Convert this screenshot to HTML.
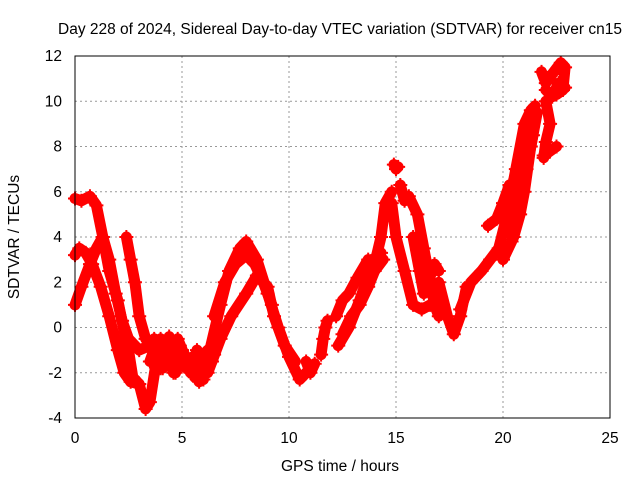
<!DOCTYPE html>
<html><head><meta charset="utf-8"><style>
html,body{margin:0;padding:0;background:#fff}
svg text{font-family:"Liberation Sans",sans-serif;font-size:15.5px;fill:#000}
</style></head><body>
<svg id="chart" width="640" height="480">
<text x="340" y="34" text-anchor="middle">Day 228 of 2024, Sidereal Day-to-day VTEC variation (SDTVAR) for receiver cn15</text>
<g id="grid"></g>
<g id="ticks"></g>
<g id="marks"></g>
<rect x="75" y="56" width="535" height="362" fill="none" stroke="#000" stroke-width="1"/>
<text x="340" y="471" text-anchor="middle">GPS time / hours</text>
<text transform="translate(19,237) rotate(-90)" text-anchor="middle">SDTVAR / TECUs</text>
</svg>
<script>
const xTicks=[0,5,10,15,20,25];
const yTicks=[-4,-2,0,2,4,6,8,10,12];
const trackTimes=[
[0,0.3,0.7,1.0,1.3,1.6,2.0,2.3,2.5,2.7,3.0,3.3,3.5,3.8,4.0],
[0,0.2,0.5,0.8,1.2,1.6,2.0,2.3,2.6,3.0],
[0,0.3,0.7,1.0,1.3,1.6,1.9,2.2,2.5,3.0,3.5],
[2.4,2.6,2.8,3.0,3.3,3.7,4.0,4.3],
[3.5,3.8,4.1,4.4,4.7,5.0,5.3,5.6,5.9,6.2,6.5],
[3.7,4.0,4.3,4.6,4.9,5.2,5.5,5.8,6.1,6.4],
[3.6,3.9,4.2,4.5,4.8,5.1,5.4,5.7,6.0],
[5.8,6.3,6.8,7.2,7.7,8.0,8.5,9.0,9.5,10.0,10.5,10.8],
[6.2,6.8,7.3,8.0,8.5,9.0,9.3,9.8,10.3],
[6.5,7.0,7.5,8.0,8.4,8.8,9.2],
[10.8,11.0,11.2],
[11.5,11.6,11.7,11.8],
[12.3,12.8,13.3,13.8,14.1,14.3,14.5,14.8],
[12.2,12.5,12.8,13.2,13.7,14.0,14.3],
[12.5,12.9,13.3,13.7,14.0,14.4],
[14.9,15.0,15.1],
[15.2,15.4,15.6,16.0,16.3,16.6,16.8,17.0],
[14.8,15.0,15.4,15.8,16.2,16.6,17.1],
[15.8,16.1,16.3,16.5,16.8,17.0],
[17.0,17.4,17.7,18.0,18.3],
[18.0,18.5,19.0,19.4,19.8,20.2,20.6,21.0,21.3,21.5],
[19.3,19.7,20.0,20.3],
[20.5,20.8,21.0,21.3,21.6],
[20.0,20.4,20.8,21.1,21.4],
[21.8,22.0,22.3,22.7,22.9,22.8,22.5],
[22.0,22.3,22.6,22.9],
[22.0,22.2,22.0,21.9],
[21.9,22.2,22.5]
];
const trackValues=[
[5.7,5.6,5.8,5.4,4.0,2.5,1.2,-0.2,-1.0,-2.2,-2.5,-3.6,-3.3,-1.5,-0.5],
[3.2,3.5,3.3,2.8,1.8,0.5,-1.0,-2.0,-2.4,-2.5],
[1.0,1.8,2.8,3.5,4.0,3.0,1.5,0.3,-0.5,-1.0,-0.8],
[4.0,3.0,2.0,0.5,-0.5,-0.8,-0.6,-1.0],
[-1.5,-0.7,-1.8,-0.4,-2.0,-1.0,-1.5,-2.2,-1.3,-1.0,-1.2],
[-0.5,-1.8,-1.0,-2.0,-0.8,-1.8,-1.3,-2.4,-2.0,-1.5],
[-1.0,-1.3,-0.8,-1.5,-0.5,-1.2,-2.0,-1.0,-2.3],
[-2.3,-1.0,1.0,2.5,3.5,3.8,3.0,1.5,0.0,-1.3,-2.3,-2.0],
[-2.0,-0.5,0.5,1.5,2.3,1.8,0.5,-0.8,-1.5],
[0.5,2.0,2.8,3.2,2.8,2.0,1.0],
[-1.5,-2.0,-1.6],
[-1.2,-0.5,0.0,0.3],
[-0.8,0.0,1.2,2.5,3.2,4.0,5.5,6.0],
[0.5,1.2,1.5,2.2,3.0,2.5,3.3],
[-0.3,0.5,1.0,1.8,2.5,3.0],
[7.2,7.0,7.1],
[6.3,5.6,5.8,5.0,3.5,2.0,1.0,0.5],
[5.5,4.0,2.5,1.0,0.8,1.0,1.0],
[4.0,2.5,1.5,2.0,2.8,2.5],
[2.0,0.5,-0.3,0.5,1.8],
[0.8,2.0,2.5,3.0,3.5,5.0,7.0,9.0,9.6,9.8],
[4.5,4.8,5.5,6.3],
[4.0,5.0,6.0,8.0,9.5],
[3.0,3.8,5.5,7.0,8.5],
[11.3,10.8,11.2,11.7,11.5,10.5,10.3],
[10.5,10.2,10.8,10.6],
[10.0,9.0,8.2,7.5],
[7.6,7.8,8.0]
];
const X0=75,X1=610,Y0=418,Y1=56;
function xs(t){return X0+(t-0)/(25-0)*(X1-X0);}
function ys(v){return Y0-(v-(-4))/(12-(-4))*(Y0-Y1);}
const NS='http://www.w3.org/2000/svg';
const grid=document.getElementById('grid'),ticks=document.getElementById('ticks'),marks=document.getElementById('marks');
xTicks.forEach(t=>{
  const x=xs(t);
  if(t>0&&t<25){const g=document.createElementNS(NS,'line');
  
  
  g.setAttribute('x1',x);g.setAttribute('x2',x);g.setAttribute('y1',Y1);g.setAttribute('y2',Y0);
  g.setAttribute('stroke','#999');g.setAttribute('stroke-dasharray','2,3');grid.appendChild(g);}
  const tx=document.createElementNS(NS,'text');
  
  
  tx.setAttribute('x',x);tx.setAttribute('y',443);tx.setAttribute('text-anchor','middle');tx.textContent=t;ticks.appendChild(tx);
});
yTicks.forEach(v=>{
  const y=ys(v);
  if(v>-4&&v<12){const g=document.createElementNS(NS,'line');
  
  
  g.setAttribute('x1',X0);g.setAttribute('x2',X1);g.setAttribute('y1',y);g.setAttribute('y2',y);
  g.setAttribute('stroke','#999');g.setAttribute('stroke-dasharray','2,3');grid.appendChild(g);}
  const tx=document.createElementNS(NS,'text');
  
  
  tx.setAttribute('x',62);tx.setAttribute('y',y+5);tx.setAttribute('text-anchor','end');tx.textContent=v;ticks.appendChild(tx);
});
trackTimes.forEach((ts,i)=>{
  const vs=trackValues[i];
  const pts=ts.map((t,j)=>xs(t).toFixed(1)+','+ys(vs[j]).toFixed(1)).join(' ');
  const pl=document.createElementNS(NS,'polyline');
  
  
  pl.setAttribute('points',pts);pl.setAttribute('fill','none');pl.setAttribute('stroke','#f00');
  pl.setAttribute('stroke-width','11');pl.setAttribute('stroke-linejoin','round');pl.setAttribute('stroke-linecap','round');
  marks.appendChild(pl);
  ts.forEach((t,j)=>{
    const x=xs(t),y=ys(vs[j]);
    const p=document.createElementNS(NS,'path');
    
    
    p.setAttribute('d','M'+(x-7)+','+y+'h14M'+x+','+(y-7)+'v14');
    p.setAttribute('stroke','#f00');p.setAttribute('stroke-width','2');
    marks.appendChild(p);
  });
});
</script>
</body></html>
